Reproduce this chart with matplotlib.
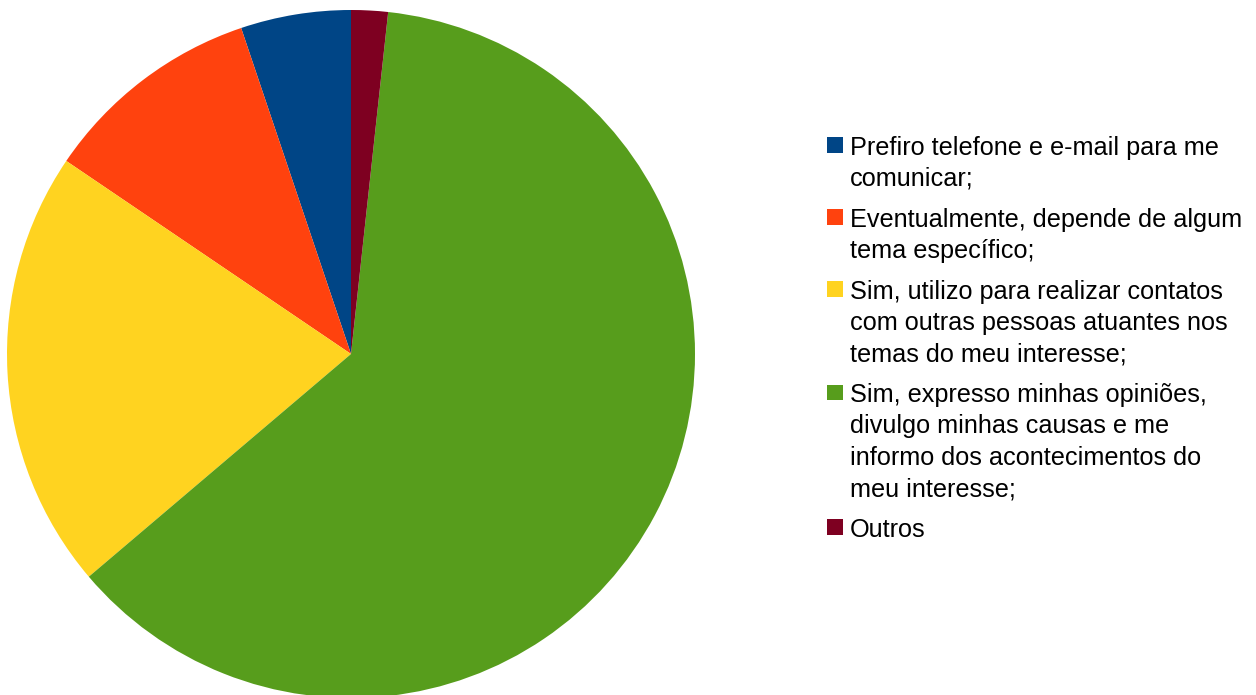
import matplotlib.pyplot as plt
from matplotlib.patches import Rectangle

labels = [
    ["Prefiro telefone e e-mail para me", "comunicar;"],
    ["Eventualmente, depende de algum", "tema específico;"],
    ["Sim, utilizo para realizar contatos", "com outras pessoas atuantes nos", "temas do meu interesse;"],
    ["Sim, expresso minhas opiniões,", "divulgo minhas causas e me", "informo dos acontecimentos do", "meu interesse;"],
    ["Outros"],
]
values = [3, 6, 12, 36, 1]
colors = ["#004586", "#ff420e", "#ffd320", "#579d1c", "#7e0021"]

W, H = 1256, 695
fig = plt.figure(figsize=(W / 100, H / 100), dpi=100)
ax = fig.add_axes([0, 0, 1, 1])
ax.set_xlim(0, W)
ax.set_ylim(0, H)
ax.set_aspect("equal")
ax.axis("off")

ax.pie(values, colors=colors, startangle=90, counterclock=True,
       center=(351, H - 354), radius=344,
       wedgeprops=dict(linewidth=0, antialiased=True))
ax.set_xlim(0, W)
ax.set_ylim(0, H)

# legend drawn by hand so the square sits on the first line
y = 154.5
step, gap = 31.3, 9.5
for lines, c in zip(labels, colors):
    ax.add_patch(Rectangle((827, H - y + 2), 15.5, 15.5, facecolor=c, edgecolor="none"))
    for line in lines:
        ax.text(850, H - y, line, fontsize=18.2, family="Liberation Sans",
                va="baseline", ha="left", color="black")
        y += step
    y += gap

fig.savefig("out.png", dpi=100)
